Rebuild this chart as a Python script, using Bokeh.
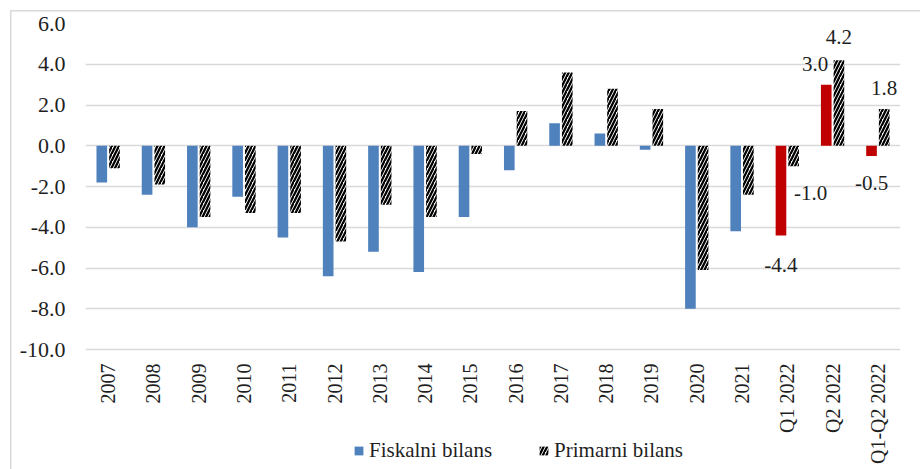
from bokeh.plotting import figure
from bokeh.models import (ColumnDataSource, FactorRange, FixedTicker, NumeralTickFormatter,
                          Legend, LegendItem, Range1d)
from bokeh.transform import dodge
from bokeh.core.properties import value
from bokeh.embed import file_html
from bokeh.resources import INLINE

categories = ["2007", "2008", "2009", "2010", "2011", "2012", "2013", "2014", "2015",
              "2016", "2017", "2018", "2019", "2020", "2021", "Q1 2022", "Q2 2022", "Q1-Q2 2022"]
fiskalni = [-1.8, -2.4, -4.0, -2.5, -4.5, -6.4, -5.2, -6.2, -3.5, -1.2, 1.1, 0.6, -0.2,
            -8.0, -4.2, -4.4, 3.0, -0.5]
primarni = [-1.1, -1.9, -3.5, -3.3, -3.3, -4.7, -2.9, -3.5, -0.4, 1.7, 3.6, 2.8, 1.8,
            -6.1, -2.4, -1.0, 4.2, 1.8]
y_ticks = [-10, -8, -6, -4, -2, 0, 2, 4, 6]
labeled = ["Q1 2022", "Q2 2022", "Q1-Q2 2022"]

BLUE = "#4f81bd"
RED = "#c00000"
FONT = "Liberation Serif"
TXT = "#1f1f1f"
GRID = "#d9d9d9"

W, H = 920, 469
TOP, AXIS_Y = 23, 349           # pixel rows of the 6.0 and -10.0 grid lines
Y_MIN, Y_MAX = -10, 6
y_bottom = Y_MAX - (Y_MAX - Y_MIN) * (H - TOP) / (AXIS_Y - TOP)

colors = [RED if c in labeled else BLUE for c in categories]
src = ColumnDataSource(dict(cat=categories, f=fiskalni, p=primarni, color=colors))

p = figure(width=W, height=H, x_range=FactorRange(*categories), y_range=Range1d(y_bottom, Y_MAX),
           output_backend="svg", toolbar_location=None,
           min_border_left=85, min_border_right=20, min_border_top=TOP, min_border_bottom=0)
p.outline_line_color = None
p.background_fill_color = "white"
p.border_fill_color = None
p.styles = {"background": ("linear-gradient(%s,%s) 10px 10px / 1.5px 100%% no-repeat, "
                           "linear-gradient(%s,%s) 10px 10px / 100%% 1.5px no-repeat, white")
            % (GRID, GRID, GRID, GRID)}

p.x_range.range_padding = 0
p.x_range.group_padding = 0

rf = p.vbar(x=dodge("cat", -0.14, range=p.x_range), top="f", width=0.235, source=src,
            fill_color="color", line_color=None)
rp = p.vbar(x=dodge("cat", 0.14, range=p.x_range), top="p", width=0.235, source=src,
            fill_color="white", line_color=None, hatch_pattern="/", hatch_color="black",
            hatch_scale=7, hatch_weight=2.3)

# data labels for 2022 quarters
lab_idx = [categories.index(c) for c in labeled]
f_dx = [0, -11, 0]
f_dy = [30, -21, 27]
p_dx = [17, 0, 0]
p_dy = [27, -23, -21]
lf = ColumnDataSource(dict(cat=labeled, y=[fiskalni[i] for i in lab_idx],
                           t=["%.1f" % fiskalni[i] for i in lab_idx], dx=f_dx, dy=f_dy))
lp = ColumnDataSource(dict(cat=labeled, y=[primarni[i] for i in lab_idx],
                           t=["%.1f" % primarni[i] for i in lab_idx], dx=p_dx, dy=p_dy))
for s, off in ((lf, -0.14), (lp, 0.14)):
    p.text(x=dodge("cat", off, range=p.x_range), y="y", text="t", source=s,
           x_offset="dx", y_offset="dy", text_font=value(FONT), text_font_size="21px",
           text_color=TXT, text_align="center", text_baseline="middle")

# axes
p.yaxis.ticker = FixedTicker(ticks=y_ticks)
p.yaxis.formatter = NumeralTickFormatter(format="0.0")
p.yaxis.axis_line_color = None
p.yaxis.major_tick_line_color = None
p.yaxis.minor_tick_line_color = None
p.yaxis.major_tick_out = 0
p.yaxis.major_label_standoff = 20
p.yaxis.major_label_text_font = FONT
p.yaxis.major_label_text_font_size = "22px"
p.yaxis.major_label_text_color = TXT

p.xaxis.fixed_location = Y_MIN
p.xaxis.axis_line_color = None
p.xaxis.major_tick_line_color = None
p.xaxis.minor_tick_line_color = None
p.xaxis.major_tick_out = 0
p.xaxis.major_label_orientation = 1.5708
p.xaxis.major_label_standoff = 14
p.xaxis.major_label_text_font = FONT
p.xaxis.major_label_text_font_size = "20px"
p.xaxis.major_label_text_color = TXT

p.xgrid.grid_line_color = None
p.ygrid.ticker = FixedTicker(ticks=y_ticks)
p.ygrid.grid_line_color = GRID
p.ygrid.grid_line_width = 1.5

legend = Legend(items=[LegendItem(label="Fiskalni bilans", renderers=[rf], index=0),
                       LegendItem(label="Primarni bilans", renderers=[rp])],
                orientation="horizontal", location=(268, 6),
                label_text_font=FONT, label_text_font_size="21px", label_text_color=TXT,
                glyph_width=11, glyph_height=11, label_standoff=5, spacing=46,
                padding=0, margin=0, border_line_color=None, background_fill_alpha=0)
p.add_layout(legend, "center")

open("out.html", "w").write(file_html(p, INLINE))
